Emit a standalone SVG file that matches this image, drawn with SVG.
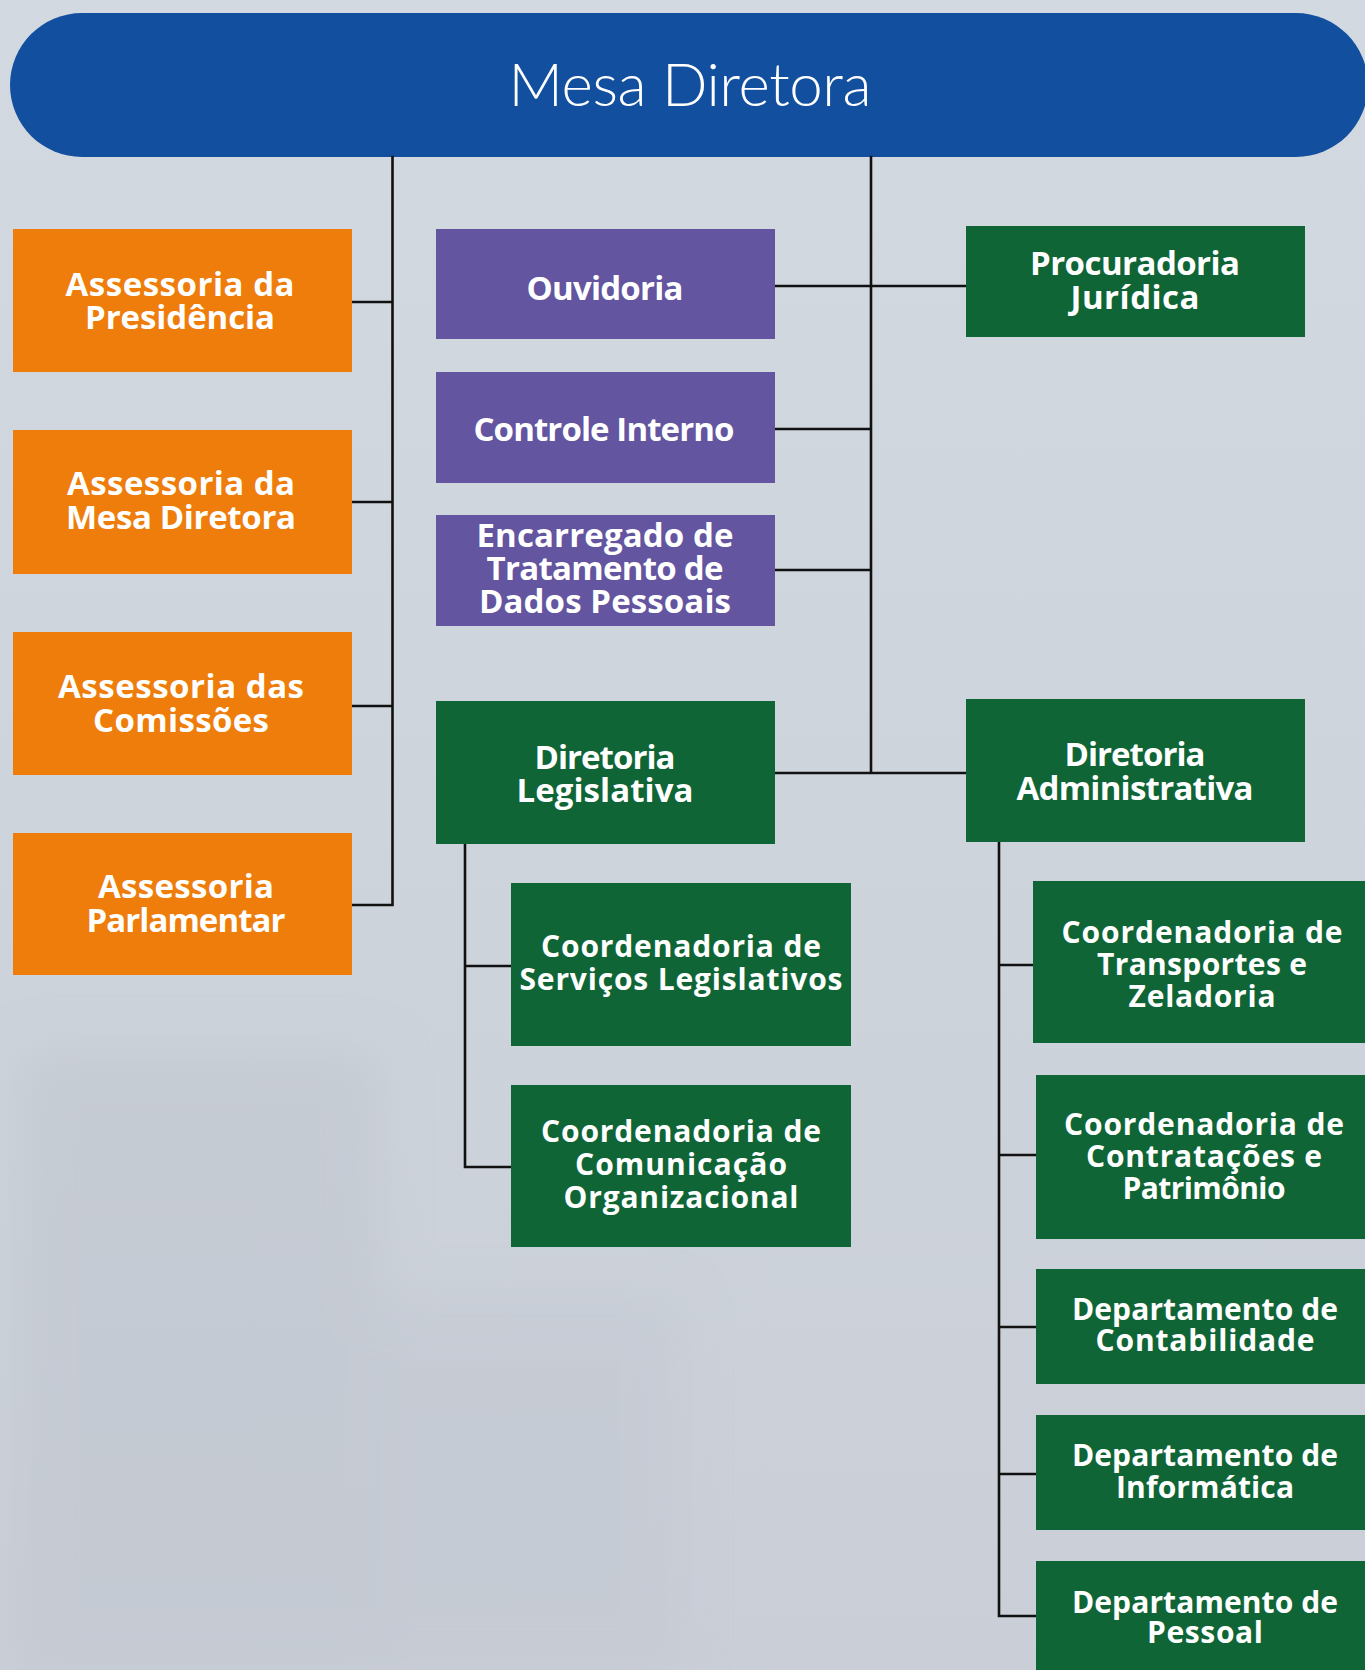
<svg xmlns="http://www.w3.org/2000/svg" width="1365" height="1670" viewBox="0 0 1365 1670">
<defs>
<linearGradient id="bg" x1="0" y1="0" x2="0" y2="1">
<stop offset="0" stop-color="#D3D9E1"/>
<stop offset="0.5" stop-color="#CED4DC"/>
<stop offset="1" stop-color="#C9CED7"/>
</linearGradient>
<filter id="blur" x="-20%" y="-20%" width="140%" height="140%"><feGaussianBlur stdDeviation="25"/></filter>
</defs>
<style>
.o{fill:#EE7D0B}
.p{fill:#6355A0}
.g{fill:#106537}
.t{fill:#FFFFFF;font-family:"Open Sans",Lato,"Liberation Sans",sans-serif;font-weight:700;font-size:33px;text-anchor:middle}
.s{font-size:30px}
.c{fill:none;stroke:#111111;stroke-width:2.6;stroke-linecap:square}
</style>
<rect width="1365" height="1670" fill="url(#bg)"/>
<g filter="url(#blur)" opacity="0.5">
<rect x="20" y="1050" width="360" height="620" fill="#BFC5CE"/>
<rect x="380" y="1300" width="300" height="370" fill="#C2C8D1"/>
</g>
<g id="mesa-diretora">
<rect x="10" y="13" width="1358" height="144" rx="72" fill="#124F9E"/>
<text x="690" y="106" fill="#FFFFFF" font-family="Lato,'Open Sans','Liberation Sans',sans-serif" font-weight="300" font-size="60" text-anchor="middle" textLength="363">Mesa Diretora</text>
</g>
<g id="connectors">
<path class="c" d="M392.5 157V905M352 302H392.5M352 502H392.5M352 706H392.5M352 905H392.5"/>
<path class="c" d="M871 157V773M775 286H966M775 429H871M775 570H871M775 773H966"/>
<path class="c" d="M465 844V1167M465 966H511M465 1167H511"/>
<path class="c" d="M999 842V1616M999 965H1036M999 1155H1036M999 1327H1036M999 1474H1036M999 1616H1036"/>
</g>
<g id="assessoria-presidencia">
<rect class="o" x="13" y="229" width="339" height="143"/>
<text class="t" x="180" y="296" textLength="229">Assessoria da</text>
<text class="t" x="180" y="329" textLength="190">Presidência</text>
</g>
<g id="assessoria-mesa">
<rect class="o" x="13" y="430" width="339" height="144"/>
<text class="t" x="181" y="495" textLength="228">Assessoria da</text>
<text class="t" x="181" y="529" textLength="230">Mesa Diretora</text>
</g>
<g id="assessoria-comissoes">
<rect class="o" x="13" y="632" width="339" height="143"/>
<text class="t" x="181" y="698" textLength="246">Assessoria das</text>
<text class="t" x="181" y="732" textLength="176">Comissões</text>
</g>
<g id="assessoria-parlamentar">
<rect class="o" x="13" y="833" width="339" height="142"/>
<text class="t" x="186" y="898" textLength="176">Assessoria</text>
<text class="t" x="186" y="932" textLength="199">Parlamentar</text>
</g>
<g id="ouvidoria">
<rect class="p" x="436" y="229" width="339" height="110"/>
<text class="t" x="605" y="300" textLength="157">Ouvidoria</text>
</g>
<g id="controle-interno">
<rect class="p" x="436" y="372" width="339" height="111"/>
<text class="t" x="604" y="441" textLength="261">Controle Interno</text>
</g>
<g id="encarregado">
<rect class="p" x="436" y="515" width="339" height="111"/>
<text class="t" x="605" y="547" textLength="257">Encarregado de</text>
<text class="t" x="605" y="580" textLength="237">Tratamento de</text>
<text class="t" x="605" y="613" textLength="252">Dados Pessoais</text>
</g>
<g id="diretoria-legislativa">
<rect class="g" x="436" y="701" width="339" height="143"/>
<text class="t" x="605" y="769" textLength="141">Diretoria</text>
<text class="t" x="605" y="802" textLength="177">Legislativa</text>
</g>
<g id="procuradoria-juridica">
<rect class="g" x="966" y="226" width="339" height="111"/>
<text class="t" x="1135" y="275" textLength="210">Procuradoria</text>
<text class="t" x="1135" y="309" textLength="129">Jurídica</text>
</g>
<g id="diretoria-administrativa">
<rect class="g" x="966" y="699" width="339" height="143"/>
<text class="t" x="1135" y="766" textLength="141">Diretoria</text>
<text class="t" x="1135" y="800" textLength="237">Administrativa</text>
</g>
<g id="coord-servicos-legislativos">
<rect class="g" x="511" y="883" width="340" height="163"/>
<text class="t s" x="681" y="957" textLength="280">Coordenadoria de</text>
<text class="t s" x="681" y="990" textLength="323">Serviços Legislativos</text>
</g>
<g id="coord-comunicacao">
<rect class="g" x="511" y="1085" width="340" height="162"/>
<text class="t s" x="681" y="1142" textLength="280">Coordenadoria de</text>
<text class="t s" x="681" y="1175" textLength="212">Comunicação</text>
<text class="t s" x="681" y="1208" textLength="235">Organizacional</text>
</g>
<g id="coord-transportes">
<rect class="g" x="1033" y="881" width="333" height="162"/>
<text class="t s" x="1202" y="943" textLength="281">Coordenadoria de</text>
<text class="t s" x="1202" y="975" textLength="210">Transportes e</text>
<text class="t s" x="1202" y="1007" textLength="147">Zeladoria</text>
</g>
<g id="coord-contratacoes">
<rect class="g" x="1036" y="1075" width="330" height="164"/>
<text class="t s" x="1204" y="1135" textLength="280">Coordenadoria de</text>
<text class="t s" x="1204" y="1167" textLength="236">Contratações e</text>
<text class="t s" x="1204" y="1199" textLength="163">Patrimônio</text>
</g>
<g id="depto-contabilidade">
<rect class="g" x="1036" y="1269" width="330" height="115"/>
<text class="t s" x="1205" y="1320" textLength="266">Departamento de</text>
<text class="t s" x="1205" y="1351" textLength="219">Contabilidade</text>
</g>
<g id="depto-informatica">
<rect class="g" x="1036" y="1415" width="330" height="115"/>
<text class="t s" x="1205" y="1466" textLength="266">Departamento de</text>
<text class="t s" x="1205" y="1498" textLength="178">Informática</text>
</g>
<g id="depto-pessoal">
<rect class="g" x="1036" y="1561" width="330" height="110"/>
<text class="t s" x="1205" y="1613" textLength="266">Departamento de</text>
<text class="t s" x="1205" y="1643" textLength="116">Pessoal</text>
</g>
</svg>
